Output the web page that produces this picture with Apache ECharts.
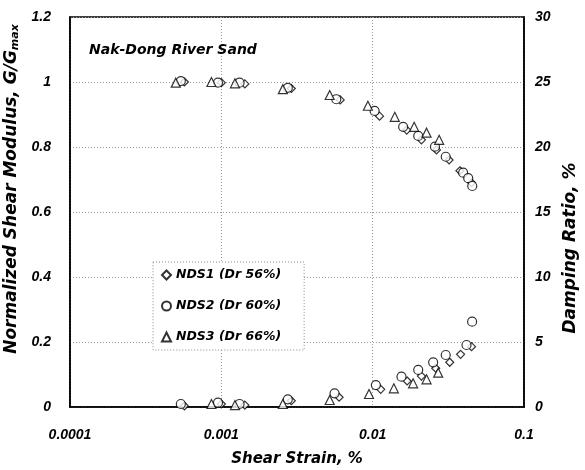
<!DOCTYPE html>
<html>
<head>
<meta charset="utf-8">
<script src="https://cdn.jsdelivr.net/npm/echarts@6/dist/echarts.min.js"></script>
<style>
  html, body { margin: 0; padding: 0; background: #fff; }
  #chart { width: 585px; height: 470px; }
</style>
</head>
<body>
<div id="chart"></div>
<script>
  // strain (%) / G/Gmax
  const nds1ModStrain = [0.00057, 0.001, 0.00143, 0.0029, 0.0061, 0.0111, 0.0168, 0.021, 0.0264, 0.032, 0.0377, 0.045];
  const nds1Mod = [1.0, 0.998, 0.994, 0.98, 0.945, 0.895, 0.852, 0.822, 0.791, 0.76, 0.727, 0.69];
  const nds2ModStrain = [0.00054, 0.00095, 0.00132, 0.00275, 0.00575, 0.0103, 0.0159, 0.02, 0.0258, 0.0304, 0.0396, 0.0428, 0.0455];
  const nds2Mod = [1.003, 0.998, 0.998, 0.982, 0.947, 0.911, 0.862, 0.834, 0.801, 0.77, 0.721, 0.704, 0.68];
  const nds3ModStrain = [0.0005, 0.00086, 0.00123, 0.00255, 0.0052, 0.0093, 0.014, 0.0188, 0.0227, 0.0275];
  const nds3Mod = [0.998, 1.0, 0.996, 0.978, 0.96, 0.927, 0.893, 0.862, 0.844, 0.822];

  // strain (%) / damping ratio (%)
  const nds1DampStrain = [0.00057, 0.001, 0.00143, 0.0029, 0.006, 0.0113, 0.0169, 0.021, 0.0261, 0.0323, 0.0381, 0.045];
  const nds1Damp = [0.08, 0.23, 0.15, 0.48, 0.75, 1.36, 2.0, 2.38, 2.98, 3.44, 4.05, 4.64];
  const nds2DampStrain = [0.00054, 0.00095, 0.00132, 0.00275, 0.0056, 0.0105, 0.0155, 0.02, 0.0251, 0.0304, 0.0417, 0.0454];
  const nds2Damp = [0.23, 0.33, 0.23, 0.59, 1.05, 1.69, 2.33, 2.85, 3.44, 4.0, 4.77, 6.56];
  const nds3DampStrain = [0.00086, 0.00123, 0.00255, 0.0052, 0.00946, 0.0138, 0.0185, 0.0227, 0.0271];
  const nds3Damp = [0.23, 0.15, 0.23, 0.54, 1.0, 1.44, 1.82, 2.13, 2.64];

  const seriesNames = ['NDS1 (Dr 56%)', 'NDS2 (Dr 60%)', 'NDS3 (Dr 66%)'];
  const xTickLabels = ['0.0001', '0.001', '0.01', '0.1'];
  const leftTickLabels = ['0', '0.2', '0.4', '0.6', '0.8', '1', '1.2'];
  const rightTickLabels = ['0', '5', '10', '15', '20', '25', '30'];

  const zip = (xs, ys) => xs.map((x, i) => [x, ys[i]]);

  const tickFont = 'Liberation Sans, Arial, sans-serif';
  const titleFont = 'DejaVu Sans, sans-serif';
  const lbl = { color: '#000', fontFamily: tickFont, fontWeight: 'bold', fontStyle: 'italic', fontSize: 14 };
  const ttl = size => ({ color: '#000', fontFamily: titleFont, fontWeight: 'bold', fontStyle: 'italic', fontSize: size });
  const gridLine = { show: true, lineStyle: { color: '#999', type: [1, 2], width: 1 } };
  const edge = { show: true, lineStyle: { color: '#000', width: 1.6 } };

  const symbols = ['diamond', 'circle', 'triangle'];
  const sizes = [8, 9, 9];
  const markStyle = { color: '#fff', borderColor: '#000', borderWidth: 1.2 };

  const modSets = [zip(nds1ModStrain, nds1Mod), zip(nds2ModStrain, nds2Mod), zip(nds3ModStrain, nds3Mod)];
  const dampSets = [zip(nds1DampStrain, nds1Damp), zip(nds2DampStrain, nds2Damp), zip(nds3DampStrain, nds3Damp)];

  const series = [];
  seriesNames.forEach((name, i) => {
    series.push({ name, type: 'scatter', yAxisIndex: 0, symbol: symbols[i], symbolSize: sizes[i], itemStyle: markStyle, data: modSets[i] });
    series.push({ name, type: 'scatter', yAxisIndex: 1, symbol: symbols[i], symbolSize: sizes[i], itemStyle: markStyle, data: dampSets[i] });
  });

  const chart = echarts.init(document.getElementById('chart'));
  chart.setOption({
    animation: false,
    backgroundColor: '#fff',
    title: {
      text: 'Nak-Dong River Sand',
      left: 84, top: 38,
      textStyle: ttl(14)
    },
    legend: {
      data: seriesNames,
      orient: 'vertical',
      left: 153, top: 262,
      itemWidth: 9, itemHeight: 9, itemGap: 15,
      padding: [5, 23, 5, 8],
      backgroundColor: '#fff',
      borderColor: '#888', borderWidth: 1, borderType: [1, 2],
      textStyle: Object.assign(ttl(12.5), { lineHeight: 16 })
    },
    grid: {
      left: 70, right: 61, top: 17, bottom: 63,
      containLabel: false, outerBoundsMode: 'none',
      show: true, borderColor: '#000', borderWidth: 1.6
    },
    xAxis: {
      type: 'log', logBase: 10, min: 0.0001, max: 0.1,
      name: 'Shear Strain, %', nameLocation: 'middle', nameGap: 45,
      nameTextStyle: ttl(15),
      axisLine: edge, axisTick: { show: false }, minorTick: { show: false },
      axisLabel: Object.assign({}, lbl, { margin: 21, formatter: v => xTickLabels[Math.round(Math.log10(v)) + 4] }),
      splitLine: gridLine
    },
    yAxis: [{
      type: 'value', min: 0, max: 1.2, interval: 0.2,
      name: '{a|Normalized Shear Modulus, G/G}{b|max}', nameLocation: 'middle', nameGap: 40, nameRotate: 90,
      nameTextStyle: {
        padding: [0, 0, 0, 46],
        rich: {
          a: ttl(17),
          b: Object.assign(ttl(11), { padding: [8, 0, 0, 0] })
        }
      },
      axisLine: edge, axisTick: { show: false },
      axisLabel: Object.assign({}, lbl, { margin: 19, formatter: (v, i) => leftTickLabels[i] }),
      splitLine: gridLine
    }, {
      type: 'value', min: 0, max: 30, interval: 5,
      name: 'Damping Ratio, %', nameLocation: 'middle', nameGap: 38, nameRotate: 90,
      nameTextStyle: Object.assign(ttl(17), { padding: [0, 72, 0, 0] }),
      axisLine: edge, axisTick: { show: false },
      axisLabel: Object.assign({}, lbl, { margin: 11, formatter: (v, i) => rightTickLabels[i] }),
      splitLine: { show: false }
    }],
    series
  });
</script>
</body>
</html>
